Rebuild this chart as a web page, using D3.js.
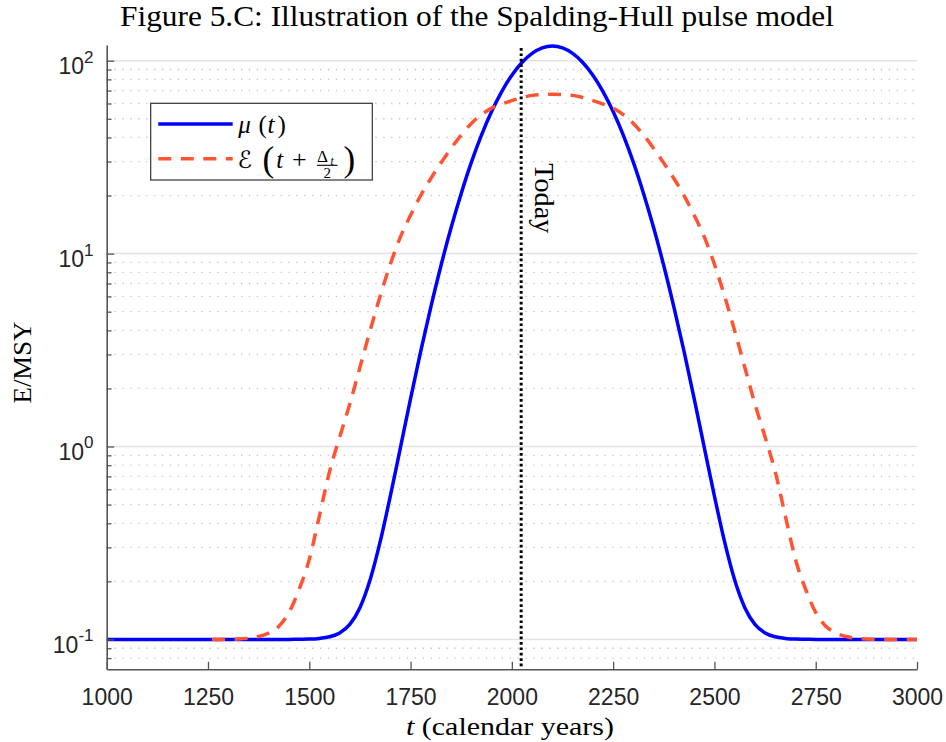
<!DOCTYPE html>
<html><head><meta charset="utf-8">
<script src="https://cdn.jsdelivr.net/npm/d3@7/dist/d3.min.js"></script>
<style>body{margin:0;background:#fff}svg{display:block}</style>
</head><body><svg id="c" width="946" height="742"></svg>
<script>
// ---------- data ----------
const years = [1000,1025,1050,1075,1100,1125,1150,1175,1200,1225,1250,1275,1300,1325,1350,1375,1400,1425,
 1450,1475,1500,1525,1550,1575,1600,1625,1650,1675,1700,1725,1750,1775,1800,1825,1850,1875,1900,1925,1950,1975,
 2000,2025,2050,2075,2100,2125,2150,2175,2200,2225,2250,2275,2300,2325,2350,2375,2400,2425,2450,2475,2500,2525,
 2550,2575,2600,2625,2650,2675,2700,2725,2750,2775,2800,2825,2850,2875,2900,2925,2950,2975,3000];
const mu = [0.1,0.1,0.1,0.1,0.1,0.1,0.1,0.1,0.1,0.1,0.1,0.1,0.1,0.1,0.1,0.1,0.1,0.1,
 0.1,0.1002,0.1004,0.1012,0.1032,0.1081,0.1197,0.146,0.203,0.321,0.553,0.988,1.77,3.11,5.28,8.65,13.6,20.5,29.7,41.1,54.5,69.2,
 84.1,97.9,109.1,116.5,119.1,116.5,109.1,97.9,84.1,69.2,54.5,41.1,29.7,20.5,13.6,8.65,5.28,3.11,1.77,0.988,0.553,0.321,
 0.203,0.146,0.1197,0.1081,0.1032,0.1012,0.1004,0.1002,0.1,0.1,0.1,0.1,0.1,0.1,0.1,0.1,0.1,0.1,0.1];
const yearsE = [1260,1275,1300,1325,1350,1375,1400,1425,1450,1475,1500,1525,1550,1575,1600,1625,1650,1675,1700,1725,
 1750,1775,1800,1825,1850,1875,1900,1925,1950,1975,2000,2025,2050,2075,2100,2125,2150,2175,2200,2225,2250,2275,
 2300,2325,2350,2375,2400,2425,2450,2475,2500,2525,2550,2575,2600,2625,2650,2675,2700,2725,2750,2775,2800,2825,
 2850,2875,2900,2925,2950,2975,3000];
const eShift = [0.1,0.1,0.1002,0.1005,0.1014,0.1035,0.108,0.117,0.138,0.182,0.260,0.437,0.741,1.12,1.66,2.57,3.98,6.03,8.81,12.2,
 15.8,20.0,24.5,29.5,35.1,41.2,47.3,52.5,56.8,59.6,62.1,64.4,66.1,66.8,67.0,66.8,66.1,64.4,62.1,59.6,56.8,52.5,
 47.3,41.2,35.1,29.5,24.5,20.0,15.8,12.2,8.81,6.03,3.98,2.57,1.66,1.12,0.741,0.437,0.260,0.182,0.138,0.117,0.108,0.1035,
 0.1014,0.1005,0.1002,0.1,0.1,0.1,0.1];
const xTicks = [1000,1250,1500,1750,2000,2250,2500,2750,3000];
const yMajor = [0.1,1,10,100];
const yMinor = [0.08,0.09,0.2,0.3,0.4,0.5,0.6,0.7,0.8,0.9,2,3,4,5,6,7,8,9,20,30,40,50,60,70,80,90];
const yTickBase = ["10","10","10","10"];
const yTickExp = ["-1","0","1","2"];
const todayYear = 2023;
const titleText = "Figure 5.C: Illustration of the Spalding-Hull pulse model";
const yLabelText = "E/MSY";
const todayText = "Today";

// ---------- layout ----------
const L = 106.7, R = 917, T = 45, B = 669.3;
const x = d3.scaleLinear().domain([1000, 3000]).range([L, R]);
const y = d3.scaleLog().domain([0.07, 120.6]).range([B, T]);
const svg = d3.select("#c");
const blue = "#0000FF", red = "#FF5433";
const serif = "'Liberation Serif', 'Times New Roman', serif";
const sans = "'Liberation Sans', Arial, Helvetica, sans-serif";

// fit a text element to a target width: grow font up to maxSize, then stretch slightly
function fit(t, target, maxSize) {
  t.attr("font-size", 20);
  const w = t.node().getComputedTextLength();
  const s = Math.min(maxSize, 20 * target / w);
  t.attr("font-size", s).attr("textLength", target).attr("lengthAdjust", "spacingAndGlyphs");
  return t;
}

// grid
svg.append("g").selectAll("line").data(yMinor).join("line")
  .attr("x1", L).attr("x2", R).attr("y1", d => y(d)).attr("y2", d => y(d))
  .attr("stroke", "#c4c4c4").attr("stroke-width", 1.3).attr("stroke-dasharray", "1.3,6.6");
svg.append("g").selectAll("line").data(yMajor).join("line")
  .attr("x1", L).attr("x2", R).attr("y1", d => y(d)).attr("y2", d => y(d))
  .attr("stroke", "#e3e3e3").attr("stroke-width", 1.5);

// curves
const lineMu = d3.line().x((d, i) => x(years[i])).y(d => y(d)).curve(d3.curveMonotoneX);
const lineE = d3.line().x((d, i) => x(yearsE[i])).y(d => y(d)).curve(d3.curveMonotoneX);
svg.append("path").attr("d", lineMu(mu)).attr("fill", "none").attr("stroke", blue).attr("stroke-width", 3.5);
svg.append("path").attr("d", lineE(eShift)).attr("fill", "none").attr("stroke", red).attr("stroke-width", 3.5)
  .attr("stroke-dasharray", "13,9.5");

// today line
svg.append("line").attr("x1", x(todayYear)).attr("x2", x(todayYear)).attr("y1", T + 3).attr("y2", B)
  .attr("stroke", "#000").attr("stroke-width", 3).attr("stroke-dasharray", "2.7,2.7");
fit(svg.append("text").attr("transform", `translate(${x(todayYear) + 14},163.3) rotate(90)`)
  .attr("font-family", serif).attr("fill", "#000").text(todayText), 70, 26.5);

// axes
const axisCol = "#555";
const gx = svg.append("g").attr("transform", `translate(0,${B})`)
  .call(d3.axisBottom(x).tickValues(xTicks).tickSizeInner(-7.5).tickSizeOuter(0).tickPadding(19.4).tickFormat(d3.format("d")));
gx.select(".domain").attr("stroke", axisCol).attr("stroke-width", 1.6);
gx.selectAll(".tick line").attr("stroke", axisCol).attr("stroke-width", 1.3);
gx.selectAll(".tick text").attr("font-family", sans).attr("font-size", 23).attr("fill", "#262626");

const gyMinor = svg.append("g").attr("transform", `translate(${L},0)`)
  .call(d3.axisLeft(y).tickValues(yMinor).tickSizeInner(-4.8).tickSizeOuter(0).tickFormat(""));
gyMinor.select(".domain").remove();
gyMinor.selectAll(".tick line").attr("stroke", axisCol).attr("stroke-width", 1.3);
const gy = svg.append("g").attr("transform", `translate(${L},0)`)
  .call(d3.axisLeft(y).tickValues(yMajor).tickSizeInner(-7.5).tickSizeOuter(0).tickFormat(""));
gy.select(".domain").attr("stroke", axisCol).attr("stroke-width", 1.6);
gy.selectAll(".tick line").attr("stroke", axisCol).attr("stroke-width", 1.3);
gy.selectAll(".tick").each(function(d, i) {
  const t = d3.select(this).append("text").attr("x", -13.2).attr("y", 13)
    .attr("text-anchor", "end").attr("font-family", sans).attr("fill", "#262626");
  t.append("tspan").attr("font-size", 23).text(yTickBase[i]);
  t.append("tspan").attr("font-size", 17).attr("dy", -11.6).text(yTickExp[i]);
});

// title and labels
fit(svg.append("text").attr("x", 477).attr("y", 26).attr("text-anchor", "middle")
  .attr("font-family", serif).attr("fill", "#000").text(titleText), 714, 28.5);
const xl = svg.append("text").attr("x", 510).attr("y", 735).attr("text-anchor", "middle")
  .attr("font-family", serif).attr("fill", "#000");
xl.append("tspan").attr("font-style", "italic").text("t");
xl.append("tspan").text(" (calendar years)");
fit(xl, 208, 25);
fit(svg.append("text").attr("transform", "translate(30.5,362.5) rotate(-90)").attr("text-anchor", "middle")
  .attr("font-family", serif).attr("fill", "#000").text(yLabelText), 82, 26);

// legend
const lg = svg.append("g");
lg.append("rect").attr("x", 150.7).attr("y", 103.3).attr("width", 221.6).attr("height", 76.7)
  .attr("fill", "#fff").attr("stroke", "#333").attr("stroke-width", 1.2);
lg.append("line").attr("x1", 158.3).attr("x2", 232.7).attr("y1", 124).attr("y2", 124)
  .attr("stroke", blue).attr("stroke-width", 3.5);
lg.append("line").attr("x1", 158.3).attr("x2", 232.7).attr("y1", 158.7).attr("y2", 158.7)
  .attr("stroke", red).attr("stroke-width", 3.5).attr("stroke-dasharray", "13,9.5");
function tx(g, xx, yy, s, size, opts = {}) {
  const t = g.append("text").attr("x", xx).attr("y", yy).attr("font-family", opts.family || serif)
    .attr("font-size", size).attr("fill", "#000").text(s);
  if (opts.italic) t.attr("font-style", "italic");
  return t;
}
tx(lg, 238.3, 132.5, "\u03BC", 25, {italic: true});
tx(lg, 258.5, 132.5, "(", 25);
tx(lg, 267.5, 132.5, "t", 25, {italic: true});
tx(lg, 277.5, 132.5, ")", 25);
tx(lg, 237.5, 167.5, "\u2130", 24, {family: "'DejaVu Serif', 'DejaVu Sans', serif"});
tx(lg, 262.5, 171, "(", 35);
tx(lg, 276.2, 167.5, "t", 25, {italic: true});
tx(lg, 292, 167.5, "+", 26);
tx(lg, 317, 162, "\u0394", 17);
tx(lg, 330.5, 164.5, "t", 11.5, {italic: true});
lg.append("line").attr("x1", 317).attr("x2", 337.5).attr("y1", 165.3).attr("y2", 165.3)
  .attr("stroke", "#000").attr("stroke-width", 1.1);
tx(lg, 323.5, 177.5, "2", 15);
tx(lg, 343.5, 171, ")", 35);
</script></body></html>
